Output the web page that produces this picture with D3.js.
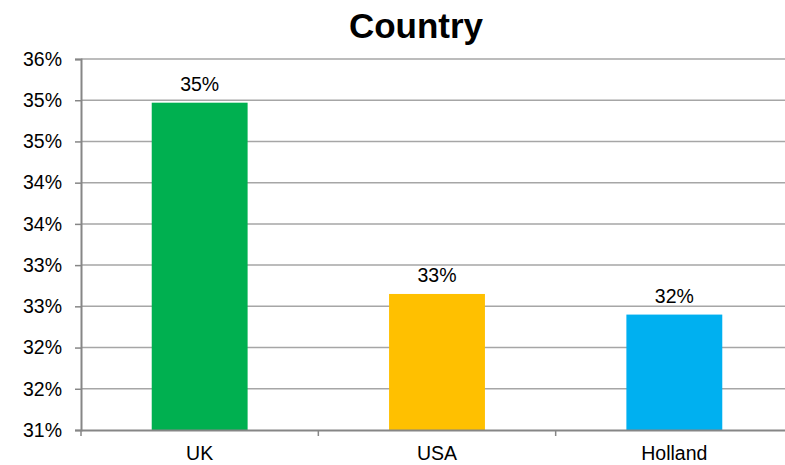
<!DOCTYPE html>
<html>
<head>
<meta charset="utf-8">
<script src="https://cdn.jsdelivr.net/npm/d3@7"></script>
<style>
  body { margin: 0; background: #fff; }
  text { font-family: "Liberation Sans", Arial, sans-serif; }
</style>
</head>
<body>
<div id="chart"></div>
<script>
// data
var countries = ["UK", "USA", "Holland"];
var shares = [34.97, 32.65, 32.40];
var barColors = ["#00B050", "#FFC000", "#00B0F0"];
var tickValues = [31, 31.5, 32, 32.5, 33, 33.5, 34, 34.5, 35, 35.5];
var tickLabels = ["31%", "32%", "32%", "33%", "33%", "34%", "34%", "35%", "35%", "36%"];

var width = 785, height = 465;
var margin = {top: 59, right: -8, bottom: 35, left: 81};
var fs = 19.5;

var svg = d3.select("#chart").append("svg")
    .attr("width", width)
    .attr("height", height);

var plotW = width - margin.left - margin.right;
var plotH = height - margin.top - margin.bottom;

var g = svg.append("g").attr("transform", "translate(" + margin.left + "," + margin.top + ")");

var x = d3.scaleBand().domain(countries).range([0, plotW]).paddingInner(0.596).paddingOuter(0.298);
var y = d3.scaleLinear().domain([31, 35.5]).range([plotH, 0]);

// gridlines
g.selectAll("line.grid").data(tickValues.slice(1)).enter().append("line")
    .attr("class", "grid")
    .attr("x1", 0).attr("x2", plotW)
    .attr("y1", function (d) { return y(d); })
    .attr("y2", function (d) { return y(d); })
    .attr("stroke", "#A6A6A6").attr("stroke-width", 1.5);

// bars
g.selectAll("rect.bar").data(shares).enter().append("rect")
    .attr("class", "bar")
    .attr("x", function (d, i) { return x(countries[i]); })
    .attr("width", x.bandwidth())
    .attr("y", function (d) { return y(d); })
    .attr("height", function (d) { return y(31) - y(d); })
    .attr("fill", function (d, i) { return barColors[i]; });

// value labels
g.selectAll("text.val").data(shares).enter().append("text")
    .attr("class", "val")
    .attr("x", function (d, i) { return x(countries[i]) + x.bandwidth() / 2; })
    .attr("y", function (d) { return y(d) - 12; })
    .attr("text-anchor", "middle")
    .attr("font-size", fs)
    .attr("fill", "#000")
    .text(function (d) { return Math.round(d) + "%"; });

// y axis
var yAxis = d3.axisLeft(y).tickValues(tickValues)
    .tickFormat(function (d, i) { return tickLabels[i]; })
    .tickSize(6).tickPadding(13);
var ya = g.append("g").call(yAxis);
ya.select(".domain").attr("stroke", "#868686").attr("stroke-width", 2);
ya.selectAll(".tick line").attr("stroke", "#868686").attr("stroke-width", 1.5);
ya.selectAll(".tick text").attr("font-size", fs).attr("fill", "#000")
    .attr("font-family", "Liberation Sans, Arial, sans-serif");

// x axis
var xa = g.append("g").attr("transform", "translate(0," + plotH + ")")
    .call(d3.axisBottom(x).tickSize(0).tickPadding(16));
xa.select(".domain").attr("stroke", "#868686").attr("stroke-width", 2);
xa.selectAll(".tick text").attr("font-size", fs).attr("fill", "#000")
    .attr("font-family", "Liberation Sans, Arial, sans-serif");

// category separator ticks
var step = x.step();
xa.selectAll("line.sep").data(d3.range(countries.length + 1)).enter().append("line")
    .attr("class", "sep")
    .attr("x1", function (d) { return d * step; })
    .attr("x2", function (d) { return d * step; })
    .attr("y1", 0).attr("y2", 6)
    .attr("stroke", "#868686").attr("stroke-width", 1.5);

// title
svg.append("text")
    .attr("x", 416).attr("y", 38)
    .attr("text-anchor", "middle")
    .attr("font-size", 35).attr("font-weight", "bold")
    .attr("fill", "#000")
    .text("Country");
</script>
</body>
</html>
